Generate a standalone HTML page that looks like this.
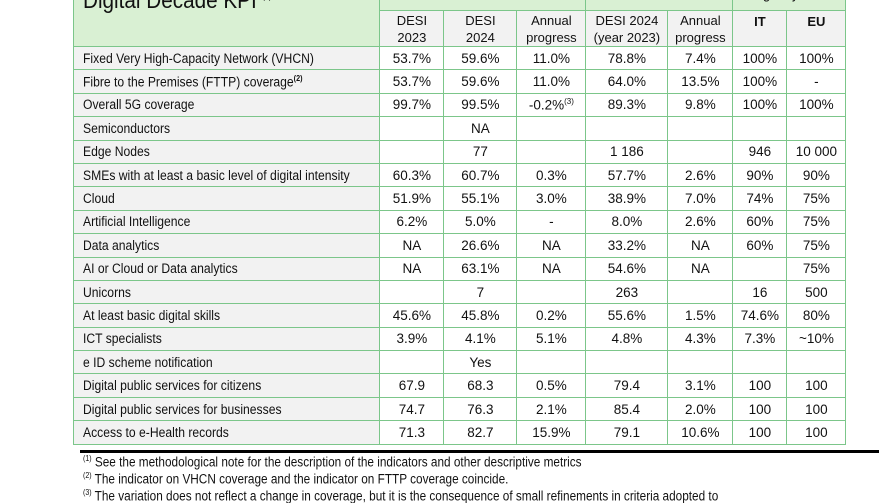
<!DOCTYPE html>
<html><head><meta charset="utf-8"><style>
body{margin:0;width:879px;height:500px;overflow:hidden;background:#fff;font-family:"Liberation Sans",sans-serif;color:#111;position:relative}
table{position:absolute;left:73px;top:-14px;border-collapse:collapse;table-layout:fixed}
td{border:1.3px solid #7cc68a;padding:0;text-align:center;font-size:13.5px;white-space:nowrap;overflow:hidden}
td.l{text-align:left;background:#f2f2f2;padding-left:9px}
.s{display:inline-block;transform:scaleX(.9);transform-origin:left center}
tr.d td{height:22.4px}
.g{background:#d9f0d3}
.h{background:#f2f2f2;font-size:13px;line-height:17px}
sup{font-size:8px}
.title{font-size:23px;text-align:left;padding-left:9px;vertical-align:top;background:#d9f0d3}
.fn{position:absolute;left:83px;font-size:13.4px;white-space:nowrap;transform:scaleX(.88);transform-origin:left}
</style></head><body>
<table>
<colgroup><col style="width:284px"><col style="width:64px"><col style="width:73px"><col style="width:69px"><col style="width:82px"><col style="width:65px"><col style="width:54px"><col style="width:59px"></colgroup>
<tr style="height:24px"><td class="title" rowspan="2"><span class="s" style="margin-top:-2px">Digital Decade KPI <sup>(1)</sup></span></td><td class="g" colspan="3"></td><td class="g" colspan="2"></td><td class="g" colspan="2" style="font-size:13px;vertical-align:top">target by 2030</td></tr>
<tr style="height:36px"><td class="h">DESI<br>2023</td><td class="h">DESI<br>2024</td><td class="h">Annual<br>progress</td><td class="h">DESI 2024<br>(year 2023)</td><td class="h">Annual<br>progress</td><td class="h" style="vertical-align:top;padding-top:2px"><b>IT</b></td><td class="h" style="vertical-align:top;padding-top:2px"><b>EU</b></td></tr>
<tr class="d"><td class="l"><span class="s">Fixed Very High-Capacity Network (VHCN)</span></td><td>53.7%</td><td>59.6%</td><td>11.0%</td><td>78.8%</td><td>7.4%</td><td>100%</td><td>100%</td></tr>
<tr class="d"><td class="l"><span class="s">Fibre to the Premises (FTTP) coverage<sup><b>(2)</b></sup></span></td><td>53.7%</td><td>59.6%</td><td>11.0%</td><td>64.0%</td><td>13.5%</td><td>100%</td><td>-</td></tr>
<tr class="d"><td class="l"><span class="s">Overall 5G coverage</span></td><td>99.7%</td><td>99.5%</td><td>-0.2%<sup>(3)</sup></td><td>89.3%</td><td>9.8%</td><td>100%</td><td>100%</td></tr>
<tr class="d"><td class="l"><span class="s">Semiconductors</span></td><td></td><td>NA</td><td></td><td></td><td></td><td></td><td></td></tr>
<tr class="d"><td class="l"><span class="s">Edge Nodes</span></td><td></td><td>77</td><td></td><td>1 186</td><td></td><td>946</td><td>10 000</td></tr>
<tr class="d"><td class="l"><span class="s">SMEs with at least a basic level of digital intensity</span></td><td>60.3%</td><td>60.7%</td><td>0.3%</td><td>57.7%</td><td>2.6%</td><td>90%</td><td>90%</td></tr>
<tr class="d"><td class="l"><span class="s">Cloud</span></td><td>51.9%</td><td>55.1%</td><td>3.0%</td><td>38.9%</td><td>7.0%</td><td>74%</td><td>75%</td></tr>
<tr class="d"><td class="l"><span class="s">Artificial Intelligence</span></td><td>6.2%</td><td>5.0%</td><td>-</td><td>8.0%</td><td>2.6%</td><td>60%</td><td>75%</td></tr>
<tr class="d"><td class="l"><span class="s">Data analytics</span></td><td>NA</td><td>26.6%</td><td>NA</td><td>33.2%</td><td>NA</td><td>60%</td><td>75%</td></tr>
<tr class="d"><td class="l"><span class="s">AI or Cloud or Data analytics</span></td><td>NA</td><td>63.1%</td><td>NA</td><td>54.6%</td><td>NA</td><td></td><td>75%</td></tr>
<tr class="d"><td class="l"><span class="s">Unicorns</span></td><td></td><td>7</td><td></td><td>263</td><td></td><td>16</td><td>500</td></tr>
<tr class="d"><td class="l"><span class="s">At least basic digital skills</span></td><td>45.6%</td><td>45.8%</td><td>0.2%</td><td>55.6%</td><td>1.5%</td><td>74.6%</td><td>80%</td></tr>
<tr class="d"><td class="l"><span class="s">ICT specialists</span></td><td>3.9%</td><td>4.1%</td><td>5.1%</td><td>4.8%</td><td>4.3%</td><td>7.3%</td><td>~10%</td></tr>
<tr class="d"><td class="l"><span class="s">e ID scheme notification</span></td><td></td><td>Yes</td><td></td><td></td><td></td><td></td><td></td></tr>
<tr class="d"><td class="l"><span class="s">Digital public services for citizens</span></td><td>67.9</td><td>68.3</td><td>0.5%</td><td>79.4</td><td>3.1%</td><td>100</td><td>100</td></tr>
<tr class="d"><td class="l"><span class="s">Digital public services for businesses</span></td><td>74.7</td><td>76.3</td><td>2.1%</td><td>85.4</td><td>2.0%</td><td>100</td><td>100</td></tr>
<tr class="d"><td class="l"><span class="s">Access to e-Health records</span></td><td>71.3</td><td>82.7</td><td>15.9%</td><td>79.1</td><td>10.6%</td><td>100</td><td>100</td></tr>
</table>
<div style="position:absolute;left:80px;top:450px;width:799px;height:2.5px;background:#000"></div>
<div class="fn" style="top:454px"><sup>(1)</sup> See the methodological note for the description of the indicators and other descriptive metrics</div>
<div class="fn" style="top:471px"><sup>(2)</sup> The indicator on VHCN coverage and the indicator on FTTP coverage coincide.</div>
<div class="fn" style="top:488px"><sup>(3)</sup> The variation does not reflect a change in coverage, but it is the consequence of small refinements in criteria adopted to</div>
</body></html>
